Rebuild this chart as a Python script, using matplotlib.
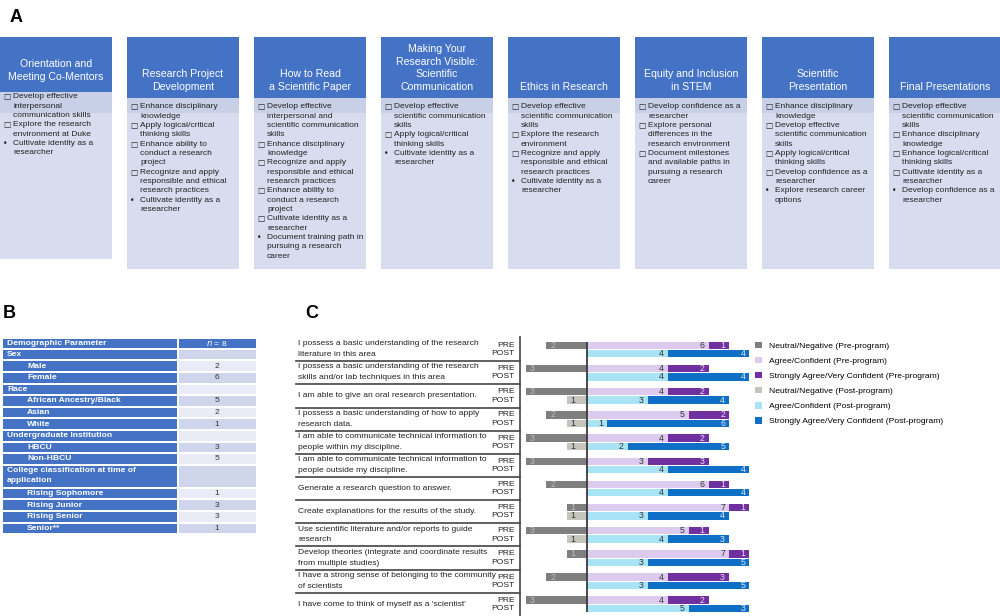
"""Program overview figure: session goals (A), demographics (B), pre/post survey (C)"""

import numpy as np
import matplotlib.pyplot as plt
from matplotlib.patches import Rectangle
from matplotlib.transforms import blended_transform_factory

plt.rcParams['font.family'] = ['Liberation Sans', 'DejaVu Sans']

# ---------------- panel A: sessions and goals ----------------
sessions = [
    "Orientation and\nMeeting Co-Mentors",
    "Research Project\nDevelopment",
    "How to Read\na Scientific Paper",
    "Making Your\nResearch Visible:\nScientific\nCommunication",
    "Ethics in Research",
    "Equity and Inclusion\nin STEM",
    "Scientific\nPresentation",
    "Final Presentations",
]
session_goals = [
    [("□", "Develop effective\ninterpersonal\ncommunication skills"),
     ("□", "Explore the research\nenvironment at Duke"),
     ("•", "Cultivate identity as a\nresearcher")],
    [("□", "Enhance disciplinary\nknowledge"),
     ("□", "Apply logical/critical\nthinking skills"),
     ("□", "Enhance ability to\nconduct a research\nproject"),
     ("□", "Recognize and apply\nresponsible and ethical\nresearch practices"),
     ("•", "Cultivate identity as a\nresearcher")],
    [("□", "Develop effective\ninterpersonal and\nscientific communication\nskills"),
     ("□", "Enhance disciplinary\nknowledge"),
     ("□", "Recognize and apply\nresponsible and ethical\nresearch practices"),
     ("□", "Enhance ability to\nconduct a research\nproject"),
     ("□", "Cultivate identity as a\nresearcher"),
     ("•", "Document training path in\npursuing a research\ncareer")],
    [("□", "Develop effective\nscientific communication\nskills"),
     ("□", "Apply logical/critical\nthinking skills"),
     ("•", "Cultivate identity as a\nresearcher")],
    [("□", "Develop effective\nscientific communication\nskills"),
     ("□", "Explore the research\nenvironment"),
     ("□", "Recognize and apply\nresponsible and ethical\nresearch practices"),
     ("•", "Cultivate identity as a\nresearcher")],
    [("□", "Develop confidence as a\nresearcher"),
     ("□", "Explore personal\ndifferences in the\nresearch environment"),
     ("□", "Document milestones\nand available paths in\npursuing a research\ncareer")],
    [("□", "Enhance disciplinary\nknowledge"),
     ("□", "Develop effective\nscientific communication\nskills"),
     ("□", "Apply logical/critical\nthinking skills"),
     ("□", "Develop confidence as a\nresearcher"),
     ("•", "Explore research career\noptions")],
    [("□", "Develop effective\nscientific communication\nskills"),
     ("□", "Enhance disciplinary\nknowledge"),
     ("□", "Enhance logical/critical\nthinking skills"),
     ("□", "Cultivate identity as a\nresearcher"),
     ("•", "Develop confidence as a\nresearcher")],
]

# ---------------- panel B: demographics ----------------
demo_labels = ["Sex", "Male", "Female", "Race", "African Ancestry/Black", "Asian", "White",
               "Undergraduate Institution", "HBCU", "Non-HBCU",
               "College classification at time of\napplication",
               "Rising Sophomore", "Rising Junior", "Rising Senior", "Senior**"]
demo_counts = ["", "2", "6", "", "5", "2", "1", "", "3", "5", "", "1", "3", "3", "1"]
demo_sub = [0, 1, 1, 0, 1, 1, 1, 0, 1, 1, 0, 1, 1, 1, 1]

# ---------------- panel C: survey ----------------
items = [
    "I possess a basic understanding of the research\nliterature in this area",
    "I possess a basic understanding of the research\nskills and/or lab techniques in this area",
    "I am able to give an oral research presentation.",
    "I possess a basic understanding of how to apply\nresearch data.",
    "I am able to communicate technical information to\npeople within my discipline.",
    "I am able to communicate technical information to\npeople outside my discipline.",
    "Generate a research question to answer.",
    "Create explanations for the results of the study.",
    "Use scientific literature and/or reports to guide\nresearch",
    "Develop theories (integrate and coordinate results\nfrom multiple studies)",
    "I have a strong sense of belonging to the community\nof scientists",
    "I have come to think of myself as a 'scientist'",
]
pre_neutral = np.array([2, 3, 3, 2, 3, 3, 2, 1, 3, 1, 2, 3])
pre_agree = np.array([6, 4, 4, 5, 4, 3, 6, 7, 5, 7, 4, 4])
pre_strong = np.array([1, 2, 2, 2, 2, 3, 1, 1, 1, 1, 3, 2])
post_neutral = np.array([0, 0, 1, 1, 1, 0, 0, 1, 1, 0, 0, 0])
post_agree = np.array([4, 4, 3, 1, 2, 4, 4, 3, 4, 3, 3, 5])
post_strong = np.array([4, 4, 4, 6, 5, 4, 4, 4, 3, 5, 5, 3])

series_names = ["Neutral/Negative (Pre-program)", "Agree/Confident (Pre-program)",
                "Strongly Agree/Very Confident (Pre-program)", "Neutral/Negative (Post-program)",
                "Agree/Confident (Post-program)", "Strongly Agree/Very Confident (Post-program)"]
series_colors = ["#7f7f7f", "#dccbef", "#7030a0", "#c6c5bd", "#a8e3f6", "#0f6fc6"]

BLUE = "#4472c4"

fig = plt.figure(figsize=(10, 6.16), dpi=100)
canvas = fig.add_axes([0, 0, 1, 1])
canvas.set_xlim(0, 1000)
canvas.set_ylim(616, 0)
canvas.axis("off")

canvas.text(10, 18, "A", fontsize=13, fontweight="bold", va="center")
canvas.text(3, 314, "B", fontsize=13, fontweight="bold", va="center")
canvas.text(305, 314, "C", fontsize=13, fontweight="bold", va="center")

# panel A boxes
for k, (title, goals) in enumerate(zip(sessions, session_goals)):
    x0 = 127 * k
    w = 112
    head_bot = 92 if k == 0 else 98
    bottom = 259 if k == 0 else 269
    canvas.add_patch(Rectangle((x0, 37), w, bottom - 37, color="#d7ddef", lw=0))
    canvas.add_patch(Rectangle((x0, head_bot), w, 113 - head_bot, color="#c8d0e8", lw=0))
    canvas.add_patch(Rectangle((x0, 37), w, head_bot - 37, color=BLUE, lw=0))
    tlines = title.split("\n")
    last_y = 77 if k == 0 else head_bot - 11
    for j, line in enumerate(tlines):
        yy = last_y - 12.7 * (len(tlines) - 1 - j)
        canvas.text(x0 + w / 2, yy, line, color="white", fontsize=7.6, ha="center", va="center")
    yy = head_bot + 5 if k == 0 else head_bot + 9
    for marker, text in goals:
        canvas.text(x0 + 3, yy, marker, fontsize=5.5, va="center", color="#222222",
                    family=["DejaVu Sans"])
        for line in text.split("\n"):
            canvas.text(x0 + 13, yy, line, fontsize=6.0, va="center", color="#222222")
            yy += 9.33

# panel B table
canvas.add_patch(Rectangle((2.7, 339), 174.3, 8.7, color=BLUE, lw=0))
canvas.add_patch(Rectangle((179, 339), 77, 8.7, color=BLUE, lw=0))
canvas.text(7, 343.3, "Demographic Parameter", color="white", fontsize=6.1,
            fontweight="bold", va="center")
canvas.text(217, 343.3, r"$n$ = 8", color="white", fontsize=6.1, ha="center", va="center")
yy = 349.7
for r, (lab, cnt, sub) in enumerate(zip(demo_labels, demo_counts, demo_sub)):
    h = 21.0 if "\n" in lab else 9.6
    canvas.add_patch(Rectangle((2.7, yy), 174.3, h, color=BLUE, lw=0))
    canvas.add_patch(Rectangle((179, yy), 77, h, color="#cfd5ea" if r % 2 == 0 else "#e9ebf5", lw=0))
    for j, line in enumerate(lab.split("\n")):
        canvas.text(27 if sub else 7, yy + 4.8 + 10.4 * j, line, color="white", fontsize=6.1,
                    fontweight="bold", va="center")
    canvas.text(217, yy + h / 2, cnt, color="#333333", fontsize=6.1, ha="center", va="center")
    yy += h + 2.0

# panel C bars
px_left, px_right, px_zero, px_unit = 522, 780, 587, 20.3
pitch, row0_px, top_px, bot_px = 23.16, 349.6, 337, 616
ax = fig.add_axes([px_left / 1000, 0, (px_right - px_left) / 1000, (bot_px - top_px) / 616])
ax.set_xlim((px_left - px_zero) / px_unit, (px_right - px_zero) / px_unit)
ax.set_ylim((bot_px - row0_px) / pitch, (top_px - row0_px) / pitch)
ax.axis("off")
ax.patch.set_alpha(0)

rows = np.arange(len(items))
pre_y = rows - 0.18
post_y = rows + 0.18
bh = 0.32
handles = [
    ax.barh(pre_y, -pre_neutral, height=bh, color=series_colors[0]),
    ax.barh(pre_y, pre_agree, height=bh, color=series_colors[1]),
    ax.barh(pre_y, pre_strong, left=pre_agree, height=bh, color=series_colors[2]),
    ax.barh(post_y, -post_neutral, height=bh, color=series_colors[3]),
    ax.barh(post_y, post_agree, height=bh, color=series_colors[4]),
    ax.barh(post_y, post_strong, left=post_agree, height=bh, color=series_colors[5]),
]
ax.vlines(0, -0.33, 11.33, color="#3a3a3a", lw=1.3)

num_fs = 6.3
for i in rows:
    if pre_neutral[i]:
        ax.text(-pre_neutral[i] + 0.2, pre_y[i], str(pre_neutral[i]), color="#bdbdbd",
                fontsize=num_fs, ha="left", va="center")
    if post_neutral[i]:
        ax.text(-post_neutral[i] + 0.2, post_y[i], str(post_neutral[i]), color="#333333",
                fontsize=num_fs, ha="left", va="center")
    ax.text(pre_agree[i] - 0.2, pre_y[i], str(pre_agree[i]), color="#333333",
            fontsize=num_fs, ha="right", va="center")
    ax.text(pre_agree[i] + pre_strong[i] - 0.2, pre_y[i], str(pre_strong[i]), color="#e8e0f0",
            fontsize=num_fs, ha="right", va="center")
    ax.text(post_agree[i] - 0.2, post_y[i], str(post_agree[i]), color="#333333",
            fontsize=num_fs, ha="right", va="center")
    ax.text(post_agree[i] + post_strong[i] - 0.2, post_y[i], str(post_strong[i]), color="#dde8f5",
            fontsize=num_fs, ha="right", va="center")

# item labels, PRE/POST and separators (x in pixels, y in row units)
tr = blended_transform_factory(canvas.transData, ax.transData)
for i, item in enumerate(items):
    lines = item.split("\n")
    offs = [0.0] if len(lines) == 1 else [-0.25, 0.22]
    for line, o in zip(lines, offs):
        canvas.text(298, i + o, line, transform=tr, fontsize=6.1, va="center", color="#222222")
    canvas.text(515, pre_y[i], "PRE", transform=tr, fontsize=6.1, ha="right", va="center",
                color="#222222")
    canvas.text(515, post_y[i], "POST", transform=tr, fontsize=6.1, ha="right", va="center",
                color="#222222")
    if i < len(items) - 1:
        canvas.plot([296, 520], [i + 0.5, i + 0.5], transform=tr, color="#444444", lw=1.2)
canvas.plot([520, 520], [337, 616], color="#444444", lw=1.2)

fig.legend(handles, series_names, loc="upper left", bbox_to_anchor=(755, 341.5),
           bbox_transform=canvas.transData, frameon=False, fontsize=6.1,
           handlelength=0.8, handleheight=0.8, handletextpad=0.8, labelspacing=0.82,
           borderpad=0, borderaxespad=0)

fig.savefig("out.png", dpi=100)
